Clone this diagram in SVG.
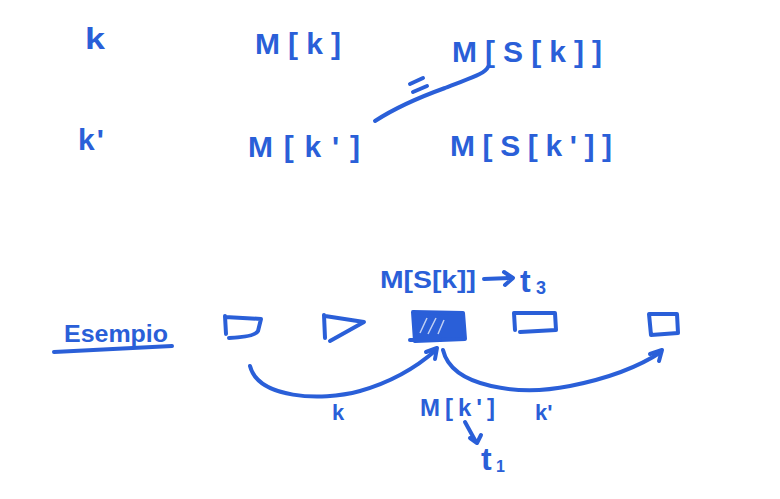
<svg xmlns="http://www.w3.org/2000/svg" width="780" height="499" viewBox="0 0 780 499">
<style>
text{font-family:"Liberation Sans",Arial,sans-serif;fill:#2a5fd8;font-weight:bold}
.t{font-size:30px}
.s{font-size:24px}
.ln{fill:none;stroke:#2a5fd8;stroke-width:4;stroke-linecap:round;stroke-linejoin:round}
</style>
<rect width="780" height="499" fill="#fff"/>
<g id="row1">
<text class="t" x="85" y="49" textLength="20" lengthAdjust="spacingAndGlyphs">k</text>
<text class="t" x="255" y="54" textLength="86" lengthAdjust="spacing">M[k]</text>
<text class="t" x="452" y="62" textLength="150" lengthAdjust="spacing">M[S[k]]</text>
</g>
<g id="row2">
<text class="t" x="78" y="150" textLength="26" lengthAdjust="spacing">k'</text>
<text class="t" x="248" y="157" textLength="112" lengthAdjust="spacing">M[k']</text>
<text class="t" x="450" y="156" textLength="162" lengthAdjust="spacing">M[S[k']]</text>
</g>
<g id="connectors">
<path class="ln" d="M375,121 C395,108 420,97 445,88 C470,78 485,74 488,67"/>
<path class="ln" d="M410,84 L423,78 M413,92 L427,86" stroke-width="3.5"/>
<path class="ln" d="M250,366 C258,398 320,402 360,391 C395,381 418,366 436,350"/>
<path class="ln" d="M426,352 L437,348 L435,359"/>
<path class="ln" d="M443,350 C452,388 520,396 570,386 C610,378 640,366 661,352"/>
<path class="ln" d="M650,354 L662,350 L659,361"/>
<path class="ln" d="M484,279 L512,278 M504,272 L513,278 L505,285" stroke-width="3.5"/>
<path class="ln" d="M465,422 L476,442 M470,438 L477,443 L481,435" stroke-width="3"/>
</g>
<g id="label-top">
<text class="s" x="380" y="288" textLength="96" lengthAdjust="spacingAndGlyphs">M[S[k]]</text>
<text x="520" y="292" style="font-size:32px">t</text>
<text x="536" y="294" style="font-size:18px">3</text>
</g>
<g id="esempio">
<text x="64" y="342" style="font-size:24px" textLength="104" lengthAdjust="spacingAndGlyphs">Esempio</text>
<path class="ln" d="M54,352 L172,346"/>
</g>
<g id="box1"><path class="ln" d="M225,316 L226,334 M225,317 L261,319 L258,331 Q255,337 229,338"/></g>
<g id="box2"><path class="ln" d="M324,315 L325,338 M325,316 L364,322 L330,341"/></g>
<g id="box3">
<path d="M413,312 L463,313 L465,339 L415,341 Z" fill="#2a5fd8" stroke="#2a5fd8" stroke-width="4" stroke-linejoin="round"/>
<path d="M420,333 L427,318 M428,334 L436,318 M438,334 L444,320" stroke="#fff" stroke-width="1.5" opacity="0.7"/>
<path class="ln" d="M410,340 L440,340"/>
</g>
<g id="box4"><path class="ln" d="M514,313 L515,330 M514,313 L555,313 L556,330 L520,332"/></g>
<g id="box5"><path class="ln" d="M649,314 L677,314 L678,333 L651,335 Z"/></g>
<g id="labels-bottom">
<text x="332" y="420" style="font-size:22px">k</text>
<text class="s" x="420" y="416" textLength="75" lengthAdjust="spacing">M[k']</text>
<text x="535" y="420" style="font-size:22px">k'</text>
<text x="481" y="470" style="font-size:32px">t</text>
<text x="496" y="472" style="font-size:16px">1</text>
</g>
</svg>
